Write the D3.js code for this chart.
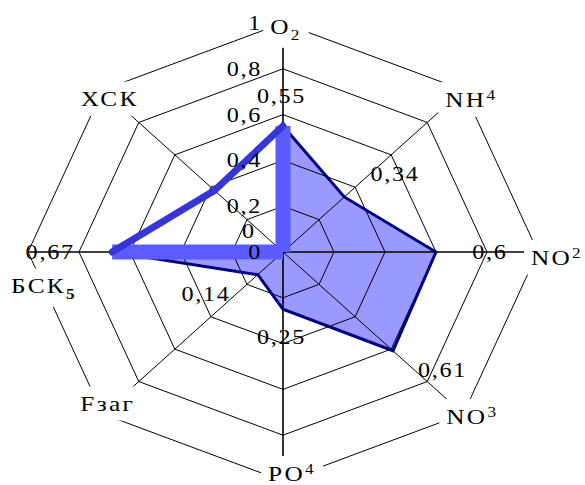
<!DOCTYPE html>
<html><head><meta charset="utf-8">
<script src="https://cdn.jsdelivr.net/npm/d3@7"></script>
<style>body{margin:0;background:#fff}svg{display:block}</style>
</head><body>
<svg id="chart" width="585" height="485"></svg>
<script>
// ---- data ----
const categories = ["O2","NH4","NO2","NO3","PO4","Fзаг","БСК5","ХСК"];
const categoryBase = ["O","NH","NO","NO","PO","Fзаг","БСК","ХСК"];
const categoryIndex = ["2","4","2","3","4","","5",""];
const categoryIndexType = ["sub","sup","sup","sup","sup","","sub",""];
const seriesA = [0.55,0.34,0.6,0.61,0.25,0.14,0.67,0];
const seriesALabels = ["0,55","0,34","0,6","0,61","0,25","0,14","0,67","0"];
const seriesB = [0.55,0,0,0,0,0,0.67,0.38];
const tickValues = [0,0.2,0.4,0.6,0.8,1];
const tickLabels = ["0","0,2","0,4","0,6","0,8","1"];

// ---- layout ----
const cx = 283, cy = 252;
const rX = d3.scaleLinear().domain([0,1]).range([0,255]);
const rY = d3.scaleLinear().domain([0,1]).range([0,229]);
const ang = d3.scaleLinear().domain([0,categories.length]).range([0,2*Math.PI]);
function pt(i,v){const a=ang(i);return [cx+rX(v)*Math.sin(a), cy-rY(v)*Math.cos(a)];}
const catOffset = [[3,4],[8,10],[19,6],[9,3],[9,-7],[5,-10],[16,34],[7,9]];
const lblOffset = [[-1.5,-30.5],[50.7,-22.5],[54,0],[49.5,19.7],[-1.5,28],[-51.8,19.8],[-62,0],[-34,-21.5]];
const FONT = "'Liberation Serif','Times New Roman',serif";
const SX = 1.15;

const svg = d3.select("#chart");
const closed = d3.line().curve(d3.curveLinearClosed);

// series A fill
svg.append("path")
  .attr("d", closed(seriesA.map((v,i)=>pt(i,v))))
  .attr("fill","#9999ff").attr("stroke","none");

// rings
svg.append("g").selectAll("path")
  .data(tickValues.filter(v=>v>0))
  .join("path")
  .attr("d", v => closed(categories.map((c,i)=>pt(i,v))))
  .attr("fill","none").attr("stroke","#000").attr("stroke-width",1);

// axes
svg.append("g").selectAll("line")
  .data(categories)
  .join("line")
  .attr("x1",cx).attr("y1",cy)
  .attr("x2",(c,i)=>pt(i,1)[0]).attr("y2",(c,i)=>pt(i,1)[1])
  .attr("stroke","#000").attr("stroke-width",(c,i)=> (i%2===0)?1.6:1);

// series A stroke
svg.append("path")
  .attr("d", closed(seriesA.map((v,i)=>pt(i,v))))
  .attr("fill","none").attr("stroke","#000080").attr("stroke-width",3).attr("stroke-linejoin","miter");

// series B edges
const bEdges = seriesB.map((v,i)=>{const j=(i+1)%seriesB.length;return {i,j,a:v,b:seriesB[j]};})
  .filter(e=> e.a>0 || e.b>0);
svg.append("g").selectAll("line")
  .data(bEdges.filter(e=> e.a===0 || e.b===0))
  .join("line")
  .attr("x1",e=>pt(e.i,e.a)[0]).attr("y1",e=>pt(e.i,e.a)[1])
  .attr("x2",e=>pt(e.j,e.b)[0]).attr("y2",e=>pt(e.j,e.b)[1])
  .attr("stroke","#5b5bff").attr("stroke-width",15);
svg.append("g").selectAll("line")
  .data(bEdges.filter(e=> e.a>0 && e.b>0))
  .join("line")
  .attr("x1",e=>pt(e.i,e.a)[0]).attr("y1",e=>pt(e.i,e.a)[1])
  .attr("x2",e=>pt(e.j,e.b)[0]).attr("y2",e=>pt(e.j,e.b)[1])
  .attr("stroke","#3636d6").attr("stroke-width",7).attr("stroke-linecap","round");

// category labels with white boxes
categories.forEach((c,i)=>{
  const p = pt(i,1);
  const x = p[0]+catOffset[i][0], y = p[1]+catOffset[i][1];
  const g = svg.append("g").attr("transform",`translate(${x},${y+7})`);
  const t = g.append("text")
    .attr("transform",`scale(${SX},1)`)
    .attr("text-anchor","middle")
    .attr("font-family",FONT).attr("font-size",22).attr("letter-spacing",2)
    .attr("fill","#000");
  t.append("tspan").text(categoryBase[i]);
  if(categoryIndex[i]){
    t.append("tspan")
      .attr("font-size",15)
      .attr("font-weight", i===6 ? "bold":"normal")
      .attr("dy", categoryIndexType[i]==="sub" ? 6 : -7)
      .text(categoryIndex[i]);
  }
  const bb = g.node().getBBox();
  g.insert("rect","text")
    .attr("x",bb.x-7).attr("y",bb.y-5)
    .attr("width",bb.width+14).attr("height",bb.height+10)
    .attr("fill","#fff");
});

// tick labels
svg.append("g").selectAll("text")
  .data(tickValues)
  .join("text")
  .attr("transform",(v,i)=>`translate(262,${cy-rY(v)+7}) scale(${SX},1)`)
  .attr("text-anchor","end")
  .attr("font-family",FONT).attr("font-size",21).attr("letter-spacing",1.5)
  .text((v,i)=>tickLabels[i]);

// data labels
svg.append("g").selectAll("text")
  .data(seriesA)
  .join("text")
  .attr("transform",(v,i)=>{const p=pt(i,v);return `translate(${p[0]+lblOffset[i][0]},${p[1]+lblOffset[i][1]+7}) scale(${SX},1)`;})
  .attr("text-anchor","middle")
  .attr("font-family",FONT).attr("font-size",21).attr("letter-spacing",1.5)
  .text((v,i)=>seriesALabels[i]);
</script>
</body></html>
